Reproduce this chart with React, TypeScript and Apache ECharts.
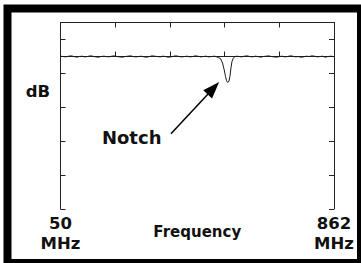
import React, { useEffect, useRef } from "react";
import * as echarts from "echarts";

// Trace (frequency in MHz, relative level in dB)
const freqMHz = [
  50, 58, 66, 74, 82, 90, 98, 106, 114, 122,
  130, 138, 146, 154, 162, 170, 178, 186, 194, 202,
  210, 218, 226, 234, 242, 250, 258, 266, 274, 282,
  290, 298, 306, 314, 322, 330, 338, 346, 354, 362,
  370, 378, 386, 394, 402, 410, 418, 426, 434, 442,
  450, 458, 466, 474, 482, 490, 498, 506, 512,
  518, 525, 531, 536, 540, 543, 546, 550, 553, 556, 559, 563, 568, 574,
  580, 588, 596, 604, 612, 620, 628, 636, 644, 652,
  660, 668, 676, 684, 692, 700, 708, 716, 724, 732,
  740, 748, 756, 764, 772, 780, 788, 796, 804, 812,
  820, 828, 836, 844, 852, 860, 862,
];
const levelDb = [
  0.1, 0.0, -0.1, 0.1, 0.2, 0.0, -0.2, 0.0, 0.1, -0.1,
  0.0, 0.2, 0.1, -0.1, -0.2, 0.0, 0.1, 0.0, -0.1, 0.1,
  0.2, 0.0, -0.1, -0.2, 0.0, 0.1, 0.2, 0.0, -0.1, 0.0,
  0.1, -0.1, -0.2, 0.0, 0.2, 0.1, 0.0, -0.1, 0.1, 0.0,
  -0.2, -0.1, 0.1, 0.2, 0.0, -0.1, 0.0, 0.1, -0.1, 0.0,
  0.2, 0.1, -0.1, 0.0, 0.1, -0.1, 0.0, 0.1, 0.0,
  -0.3, -0.6, -1.9, -3.9, -5.9, -7.1, -7.6, -7.3, -5.9, -3.4, -1.5, -0.5, 0.0, 0.1,
  0.0, -0.1, 0.1, 0.2, 0.0, -0.1, 0.1, 0.0, -0.2, 0.0,
  0.1, 0.2, 0.0, -0.1, -0.2, 0.0, 0.1, -0.1, 0.0, 0.2,
  0.1, -0.1, 0.0, -0.2, -0.1, 0.1, 0.0, 0.2, 0.1, -0.1,
  0.0, 0.1, -0.2, 0.0, 0.1, 0.0, -0.1,
];

const xRange = [50, 862];
const xLabelValues = [50, 862];
const yRange = [-44.8, 10];
const yInterval = 10;
const tickRange = [1, 11];
const tickInterval = 2;

// Annotation arrow (data units)
const arrowFrom = [378, -22.7];
const arrowTo = [504, -9.3];

const FONT = "DejaVu Sans";

export default function App() {
  const ref = useRef<HTMLDivElement>(null);

  useEffect(() => {
    document.body.style.margin = "0";
    const chart = echarts.init(ref.current!, null, { renderer: "svg" });
    const axisColor = "#222";
    const tickAxis = (position: "top" | "bottom", showLine: boolean) => ({
      type: "value",
      position,
      min: tickRange[0],
      max: tickRange[1],
      interval: tickInterval,
      axisLine: { show: showLine, lineStyle: { color: axisColor, width: 1 } },
      axisTick: { show: true, inside: true, length: 5, lineStyle: { color: axisColor, width: 1 } },
      axisLabel: { show: false },
      splitLine: { show: false },
    });
    const yAxis = (position: "left" | "right") => ({
      type: "value",
      position,
      min: yRange[0],
      max: yRange[1],
      interval: yInterval,
      axisLine: { show: true, lineStyle: { color: axisColor, width: 1 } },
      axisTick: { show: true, inside: true, length: 5, lineStyle: { color: axisColor, width: 1 } },
      axisLabel: { show: false },
      splitLine: { show: false },
    });

    chart.setOption({
      animation: false,
      grid: {
        left: 60.5,
        top: 22.5,
        width: 273.5,
        height: 186.5,
        containLabel: false,
        outerBoundsMode: "none",
      },
      xAxis: [
        {
          type: "value",
          position: "bottom",
          min: xRange[0],
          max: xRange[1],
          axisLine: { show: true, lineStyle: { color: axisColor, width: 1 } },
          axisTick: { show: false },
          splitLine: { show: false },
          axisLabel: {
            customValues: xLabelValues,
            showMinLabel: true,
            showMaxLabel: true,
            formatter: (v: number) => `${v}\nMHz`,
            fontFamily: FONT,
            fontWeight: "bold",
            fontSize: 16.5,
            lineHeight: 20,
            color: "#111",
            margin: 4,
          },
          name: "Frequency",
          nameLocation: "middle",
          nameGap: 15.5,
          nameMoveOverlap: false,
          nameTextStyle: { fontFamily: FONT, fontWeight: "bold", fontSize: 15, color: "#111" },
        },
        tickAxis("bottom", false),
        tickAxis("top", true),
      ],
      yAxis: [yAxis("left"), yAxis("right")],
      graphic: [
        {
          type: "rect",
          shape: { x: 7.5, y: 8.5, width: 353.5, height: 254.5 },
          style: { fill: "none", stroke: "#000", lineWidth: 8 },
          silent: true,
        },
        {
          type: "text",
          x: 38,
          y: 91.3,
          style: {
            text: "dB",
            fontFamily: FONT,
            fontWeight: "bold",
            fontSize: 16.5,
            fill: "#111",
            align: "center",
            verticalAlign: "middle",
          },
        },
        {
          type: "text",
          x: 131.7,
          y: 137.1,
          style: {
            text: "Notch",
            fontFamily: FONT,
            fontWeight: "bold",
            fontSize: 18,
            fill: "#111",
            align: "center",
            verticalAlign: "middle",
          },
        },
      ],
      series: [
        {
          type: "line",
          xAxisIndex: 0,
          yAxisIndex: 0,
          data: freqMHz.map((f, i) => [f, levelDb[i]]),
          showSymbol: false,
          symbol: "none",
          lineStyle: { color: "#1a1a1a", width: 1 },
          silent: true,
          markLine: {
            silent: true,
            symbol: ["none", "triangle"],
            symbolSize: [12, 17],
            lineStyle: { color: "#000", width: 1.5, type: "solid" },
            label: { show: false },
            emphasis: { disabled: true },
            data: [[{ coord: arrowFrom }, { coord: arrowTo }]],
          },
        },
      ],
    });
    return () => chart.dispose();
  }, []);

  return <div ref={ref} style={{ width: 361, height: 263 }} />;
}
